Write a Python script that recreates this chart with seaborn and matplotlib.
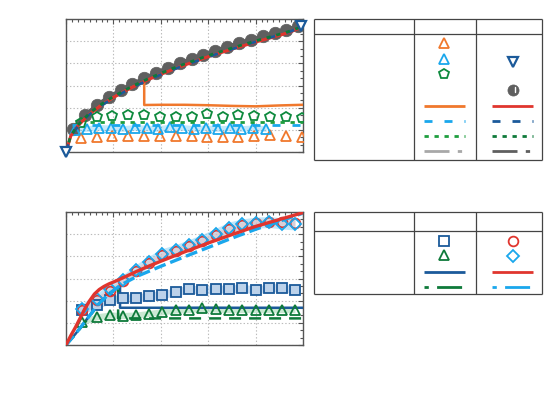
import matplotlib
matplotlib.use("Agg")
import matplotlib.pyplot as plt
from matplotlib.ticker import AutoMinorLocator
import seaborn as sns

# ---------------- data: top panel ----------------
top_curve_x = [0, 2, 5, 10, 15, 20, 25, 30, 35, 40, 45, 50, 55, 60, 65, 70, 75, 80, 85, 90, 95, 100]
top_red_y = [0, 0.72, 1.18, 1.72, 2.12, 2.46, 2.76, 3.03, 3.28, 3.50, 3.72, 3.92, 4.11, 4.30, 4.47, 4.64, 4.80, 4.96, 5.11, 5.26, 5.43, 5.66]
top_darkblue_y = [0, 0.70, 1.16, 1.70, 2.10, 2.44, 2.74, 3.01, 3.26, 3.49, 3.71, 3.91, 4.10, 4.29, 4.47, 4.64, 4.81, 4.97, 5.13, 5.28, 5.45, 5.68]
top_darkgreen_y = [0, 0.74, 1.21, 1.76, 2.16, 2.50, 2.80, 3.07, 3.32, 3.55, 3.77, 3.97, 4.16, 4.35, 4.52, 4.69, 4.85, 5.01, 5.16, 5.31, 5.47, 5.68]

top_gray_x = [3, 8, 13, 18, 23, 28, 33, 38, 43, 48, 53, 58, 63, 68, 73, 78, 83, 88, 93, 98]
top_gray_y = [1.05, 1.65, 2.10, 2.47, 2.78, 3.06, 3.32, 3.56, 3.79, 4.00, 4.20, 4.39, 4.57, 4.74, 4.91, 5.07, 5.22, 5.37, 5.52, 5.67]

top_orange_line_x = [0, 2, 5, 10, 15, 20, 25, 30, 33, 33, 40, 50, 60, 70, 80, 90, 100]
top_orange_line_y = [0, 0.72, 1.18, 1.72, 2.12, 2.46, 2.76, 3.03, 3.17, 2.12, 2.13, 2.13, 2.11, 2.08, 2.06, 2.10, 2.13]

top_tri_x = [6.2, 12.9, 19.5, 26.3, 32.9, 39.7, 46.4, 53.0, 59.4, 66.1, 72.7, 79.3, 86.1, 92.8, 99.6]
top_orange_tri_y = [0.62, 0.69, 0.72, 0.72, 0.72, 0.72, 0.71, 0.72, 0.69, 0.69, 0.69, 0.72, 0.75, 0.72, 0.69]
top_penta_y = [1.29, 1.57, 1.62, 1.67, 1.67, 1.59, 1.59, 1.57, 1.71, 1.57, 1.67, 1.62, 1.59, 1.57, 1.52]

top_ltri_x = [3.8, 9, 14, 19, 24, 29, 34, 39, 44, 49, 54, 59, 64, 69, 74, 79, 84.5]
top_ltri_y = [1.00, 1.05, 1.10, 1.08, 1.05, 1.10, 1.07, 1.05, 1.12, 1.10, 1.05, 1.08, 1.05, 1.07, 1.05, 1.08, 1.05]

top_lblue_dash_x = [2.5, 100]
top_lblue_dash_y = [1.22, 1.22]
top_green_dot_x = [10, 100]
top_green_dot_y = [1.37, 1.37]
top_dtri_x = [0, 99]
top_dtri_y = [0, 5.70]

# ---------------- data: bottom panel ----------------
bot_red_x = [0, 2, 4, 6, 8, 10, 12, 14, 16, 18, 20, 23, 26, 30, 35, 40, 50, 60, 70, 80, 90, 100]
bot_red_y = [0, 0.42, 0.80, 1.22, 1.65, 2.00, 2.30, 2.50, 2.64, 2.75, 2.84, 2.98, 3.13, 3.33, 3.56, 3.78, 4.20, 4.60, 4.98, 5.35, 5.66, 5.97]
bot_lblue_x = [0, 4, 8, 13, 18, 23, 30, 40, 50, 60, 70, 80, 90, 100]
bot_lblue_y = [0, 0.50, 1.05, 1.75, 2.30, 2.70, 3.10, 3.55, 3.98, 4.40, 4.82, 5.22, 5.58, 5.95]
bot_dblue_x = [0, 4, 8, 13, 18, 22.8, 22.8, 100]
bot_dblue_y = [0, 0.50, 1.05, 1.75, 2.30, 2.65, 1.68, 1.68]
bot_dgreen_x = [0, 4, 8, 13, 18, 22, 22, 100]
bot_dgreen_y = [0, 0.48, 1.02, 1.72, 2.27, 2.60, 1.20, 1.20]

bot_mk_x = [6.9, 12.9, 18.6, 24.2, 29.5, 35.0, 40.6, 46.3, 52.0, 57.5, 63.2, 68.8, 74.4, 80.1, 85.7, 91.3, 96.6]
bot_diam_y = [1.62, 2.08, 2.51, 2.93, 3.38, 3.76, 4.10, 4.28, 4.51, 4.74, 5.02, 5.30, 5.44, 5.52, 5.55, 5.48, 5.44]
bot_circ_y = [1.60, 2.02, 2.45, 2.88, 3.32, 3.72, 4.05, 4.25, 4.48, 4.70, 4.95, 5.22, 5.40, 5.52, 5.56, 5.56, 5.52]
bot_sq_y = [1.58, 1.82, 2.03, 2.12, 2.12, 2.21, 2.27, 2.40, 2.52, 2.48, 2.51, 2.53, 2.56, 2.48, 2.58, 2.58, 2.48]
bot_gtri_y = [1.05, 1.27, 1.35, 1.33, 1.35, 1.42, 1.50, 1.58, 1.60, 1.65, 1.62, 1.60, 1.60, 1.60, 1.60, 1.60, 1.60]

# ---------------- colours ----------------
ORANGE = "#F0782D"
LBLUE = "#1AA7EC"
GREEN = "#1E9E3E"
PGREEN = "#0E8A3E"
LGRAY = "#A8A8A8"
DBLUE = "#1B5A9A"
DGRAY = "#5F5F5F"
RED = "#E0352E"
DGREEN = "#0E7A3A"

PX = 0.72  # points per pixel at dpi 100

sns.set_theme(style="white")
plt.rcParams["lines.scale_dashes"] = False
plt.rcParams["font.family"] = ["DejaVu Sans"]

fig = plt.figure(figsize=(5.5, 3.93), dpi=100)
ax1 = fig.add_axes([66 / 550, 1 - 152 / 393, 237 / 550, 133 / 393])
ax2 = fig.add_axes([66 / 550, 1 - 345 / 393, 237 / 550, 133 / 393])


def style_axes(ax):
    ax.set_xlim(0, 100)
    ax.set_ylim(0, 6)
    ax.set_xticks(range(0, 101, 20))
    ax.set_yticks(range(0, 7))
    ax.xaxis.set_minor_locator(AutoMinorLocator(8))
    ax.yaxis.set_minor_locator(AutoMinorLocator(3))
    ax.tick_params(which="both", direction="in", top=True, right=True,
                   labelbottom=False, labelleft=False, color="#555555", width=0.8)
    ax.tick_params(which="major", length=3.5)
    ax.tick_params(which="minor", length=2)
    ax.grid(True, which="major", linestyle=(0, (1, 1.5)), color="#BBBBBB", linewidth=0.8)
    for s in ax.spines.values():
        s.set_color("#555555")
        s.set_linewidth(1.0)
    ax.set_xlabel("")
    ax.set_ylabel("")


def line(ax, x, y, **kw):
    sns.lineplot(x=x, y=y, ax=ax, estimator=None, sort=False, legend=False, **kw)


def marks(ax, x, y, marker, ms, ec, fc="none", mew=1.3, z=4, clip=True):
    sns.lineplot(x=x, y=y, ax=ax, estimator=None, sort=False, legend=False,
                 linestyle="", marker=marker, markersize=ms, markeredgecolor=ec,
                 markerfacecolor=fc, markeredgewidth=mew, zorder=z, clip_on=clip)


# ---------------- top panel ----------------
ax1.fill_between(top_ltri_x, [v - 0.12 for v in top_ltri_y], [v + 0.14 for v in top_ltri_y],
                 color=LBLUE, alpha=0.25, linewidth=0, zorder=1)
line(ax1, top_gray_x, top_gray_y, color=DGRAY, linewidth=3.0, zorder=2)
marks(ax1, top_gray_x, top_gray_y, "o", 9, DGRAY, fc=DGRAY, mew=0.5, z=2)
marks(ax1, top_tri_x, top_orange_tri_y, "^", 7, ORANGE, z=3)
marks(ax1, top_ltri_x, top_ltri_y, "^", 7, LBLUE, z=3)
marks(ax1, top_tri_x, top_penta_y, "p", 7.5, PGREEN, z=3)
line(ax1, top_lblue_dash_x, top_lblue_dash_y, color=LBLUE, linewidth=2.0,
     linestyle=(0, (8 * PX, 12 * PX)), zorder=4)
line(ax1, top_green_dot_x, top_green_dot_y, color=GREEN, linewidth=2.0,
     linestyle=(0, (4.3 * PX, 5.7 * PX)), zorder=4)
line(ax1, top_orange_line_x, top_orange_line_y, color=ORANGE, linewidth=1.8, zorder=5)
line(ax1, top_curve_x, top_red_y, color=RED, linewidth=2.2, zorder=6)
line(ax1, top_curve_x, top_darkblue_y, color=DBLUE, linewidth=2.0,
     linestyle=(0, (8 * PX, 12 * PX)), zorder=7)
line(ax1, top_curve_x, top_darkgreen_y, color=DGREEN, linewidth=2.0,
     linestyle=(0, (4.3 * PX, 5.7 * PX)), zorder=7)
marks(ax1, top_dtri_x, top_dtri_y, "v", 7.5, DBLUE, fc="white", mew=1.6, z=8, clip=False)
style_axes(ax1)

# ---------------- bottom panel ----------------
ax2.fill_between(bot_mk_x, [v - 0.25 for v in bot_diam_y], [v + 0.25 for v in bot_diam_y],
                 color="#8FD3F5", alpha=0.55, linewidth=0, zorder=1)
ax2.fill_between(bot_mk_x, [v - 0.15 for v in bot_circ_y], [v + 0.15 for v in bot_circ_y],
                 color="#F5B5B0", alpha=0.45, linewidth=0, zorder=1)
ax2.fill_between(bot_mk_x, [v - 0.18 for v in bot_sq_y], [v + 0.18 for v in bot_sq_y],
                 color="#A9C7E6", alpha=0.6, linewidth=0, zorder=1)
ax2.fill_between(bot_mk_x, [v - 0.14 for v in bot_gtri_y], [v + 0.14 for v in bot_gtri_y],
                 color="#A6D9B5", alpha=0.6, linewidth=0, zorder=1)
line(ax2, bot_dblue_x, bot_dblue_y, color=DBLUE, linewidth=1.8, zorder=3)
line(ax2, bot_dgreen_x, bot_dgreen_y, color=DGREEN, linewidth=1.8,
     linestyle=(0, (12 * PX, 8 * PX)), zorder=3)
marks(ax2, bot_mk_x, bot_sq_y, "s", 6.5, DBLUE, fc="#BCD2EA", mew=1.3, z=4)
marks(ax2, bot_mk_x, bot_gtri_y, "^", 7, DGREEN, z=4)
marks(ax2, bot_mk_x, bot_circ_y, "o", 7, RED, z=4)
marks(ax2, bot_mk_x, bot_diam_y, "D", 6, LBLUE, z=5)
line(ax2, bot_lblue_x, bot_lblue_y, color=LBLUE, linewidth=2.4,
     linestyle=(0, (12 * PX, 5 * PX)), zorder=6)
line(ax2, bot_red_x, bot_red_y, color=RED, linewidth=2.4, zorder=7)
style_axes(ax2)

# ---------------- legend tables (pixel layout) ----------------
lg = fig.add_axes([0, 0, 1, 1], zorder=10)
lg.set_xlim(0, 550)
lg.set_ylim(393, 0)
lg.axis("off")
lg.patch.set_visible(False)

BORDER = "#444444"


def table(y0, y1, yh):
    for xs, ys in [([314, 542], [y0, y0]), ([314, 542], [y1, y1]), ([314, 542], [yh, yh]),
                   ([314, 314], [y0, y1]), ([542, 542], [y0, y1]),
                   ([414, 414], [y0, y1]), ([476, 476], [y0, y1])]:
        lg.plot(xs, ys, color=BORDER, linewidth=0.9, solid_capstyle="butt")


table(19, 160, 34)
table(212, 294, 231)


def lmark(x, y, m, ms, ec, fc="none", mew=1.3):
    lg.plot([x], [y], linestyle="", marker=m, markersize=ms, markeredgecolor=ec,
            markerfacecolor=fc, markeredgewidth=mew)


def lline(x0, y, color, ls, lw=2.0):
    lg.plot([x0, x0 + 41], [y, y], color=color, linestyle=ls, linewidth=lw,
            solid_capstyle="butt", dash_capstyle="butt")


C2, C3 = 444, 513
DASH = (0, (8 * PX, 12 * PX))
DOT = (0, (4.3 * PX, 5.7 * PX))
DASHDOT = (0, (25 * PX, 8.3 * PX, 4.3 * PX, 8.3 * PX))
DOTDASH = (0, (4.3 * PX, 8.3 * PX, 25 * PX, 8.3 * PX))

# top table
lmark(C2, 43, "^", 7, ORANGE)
lmark(C2, 59, "^", 7, LBLUE)
lmark(C2, 74, "p", 7.5, PGREEN)
lmark(C3, 62, "v", 7.5, DBLUE, fc="white", mew=1.6)
lmark(C3, 90, "o", 8, DGRAY, fc=DGRAY, mew=0.5)
lg.plot([C3 + 1.5, C3 + 1.5], [87, 92], color="white", linewidth=1.0)
lline(424, 106, ORANGE, "-")
lline(492, 106, RED, "-")
lline(424, 121, LBLUE, DASH)
lline(492, 121, DBLUE, DASH)
lline(424, 136, GREEN, DOT)
lline(492, 136, DGREEN, DOT)
lline(424, 151, LGRAY, DASHDOT)
lline(492, 151, DGRAY, DASHDOT)

# bottom table
lmark(C2, 241, "s", 6.5, DBLUE, fc="white", mew=1.3)
lmark(C2, 255, "^", 7, DGREEN)
lmark(C3, 241, "o", 7, RED)
lmark(C3, 256, "D", 6, LBLUE)
lline(424, 272, DBLUE, "-")
lline(492, 272, RED, "-")
lline(424, 287, DGREEN, DOTDASH)
lline(492, 287, LBLUE, DOTDASH)

fig.savefig("out.png", dpi=100)
